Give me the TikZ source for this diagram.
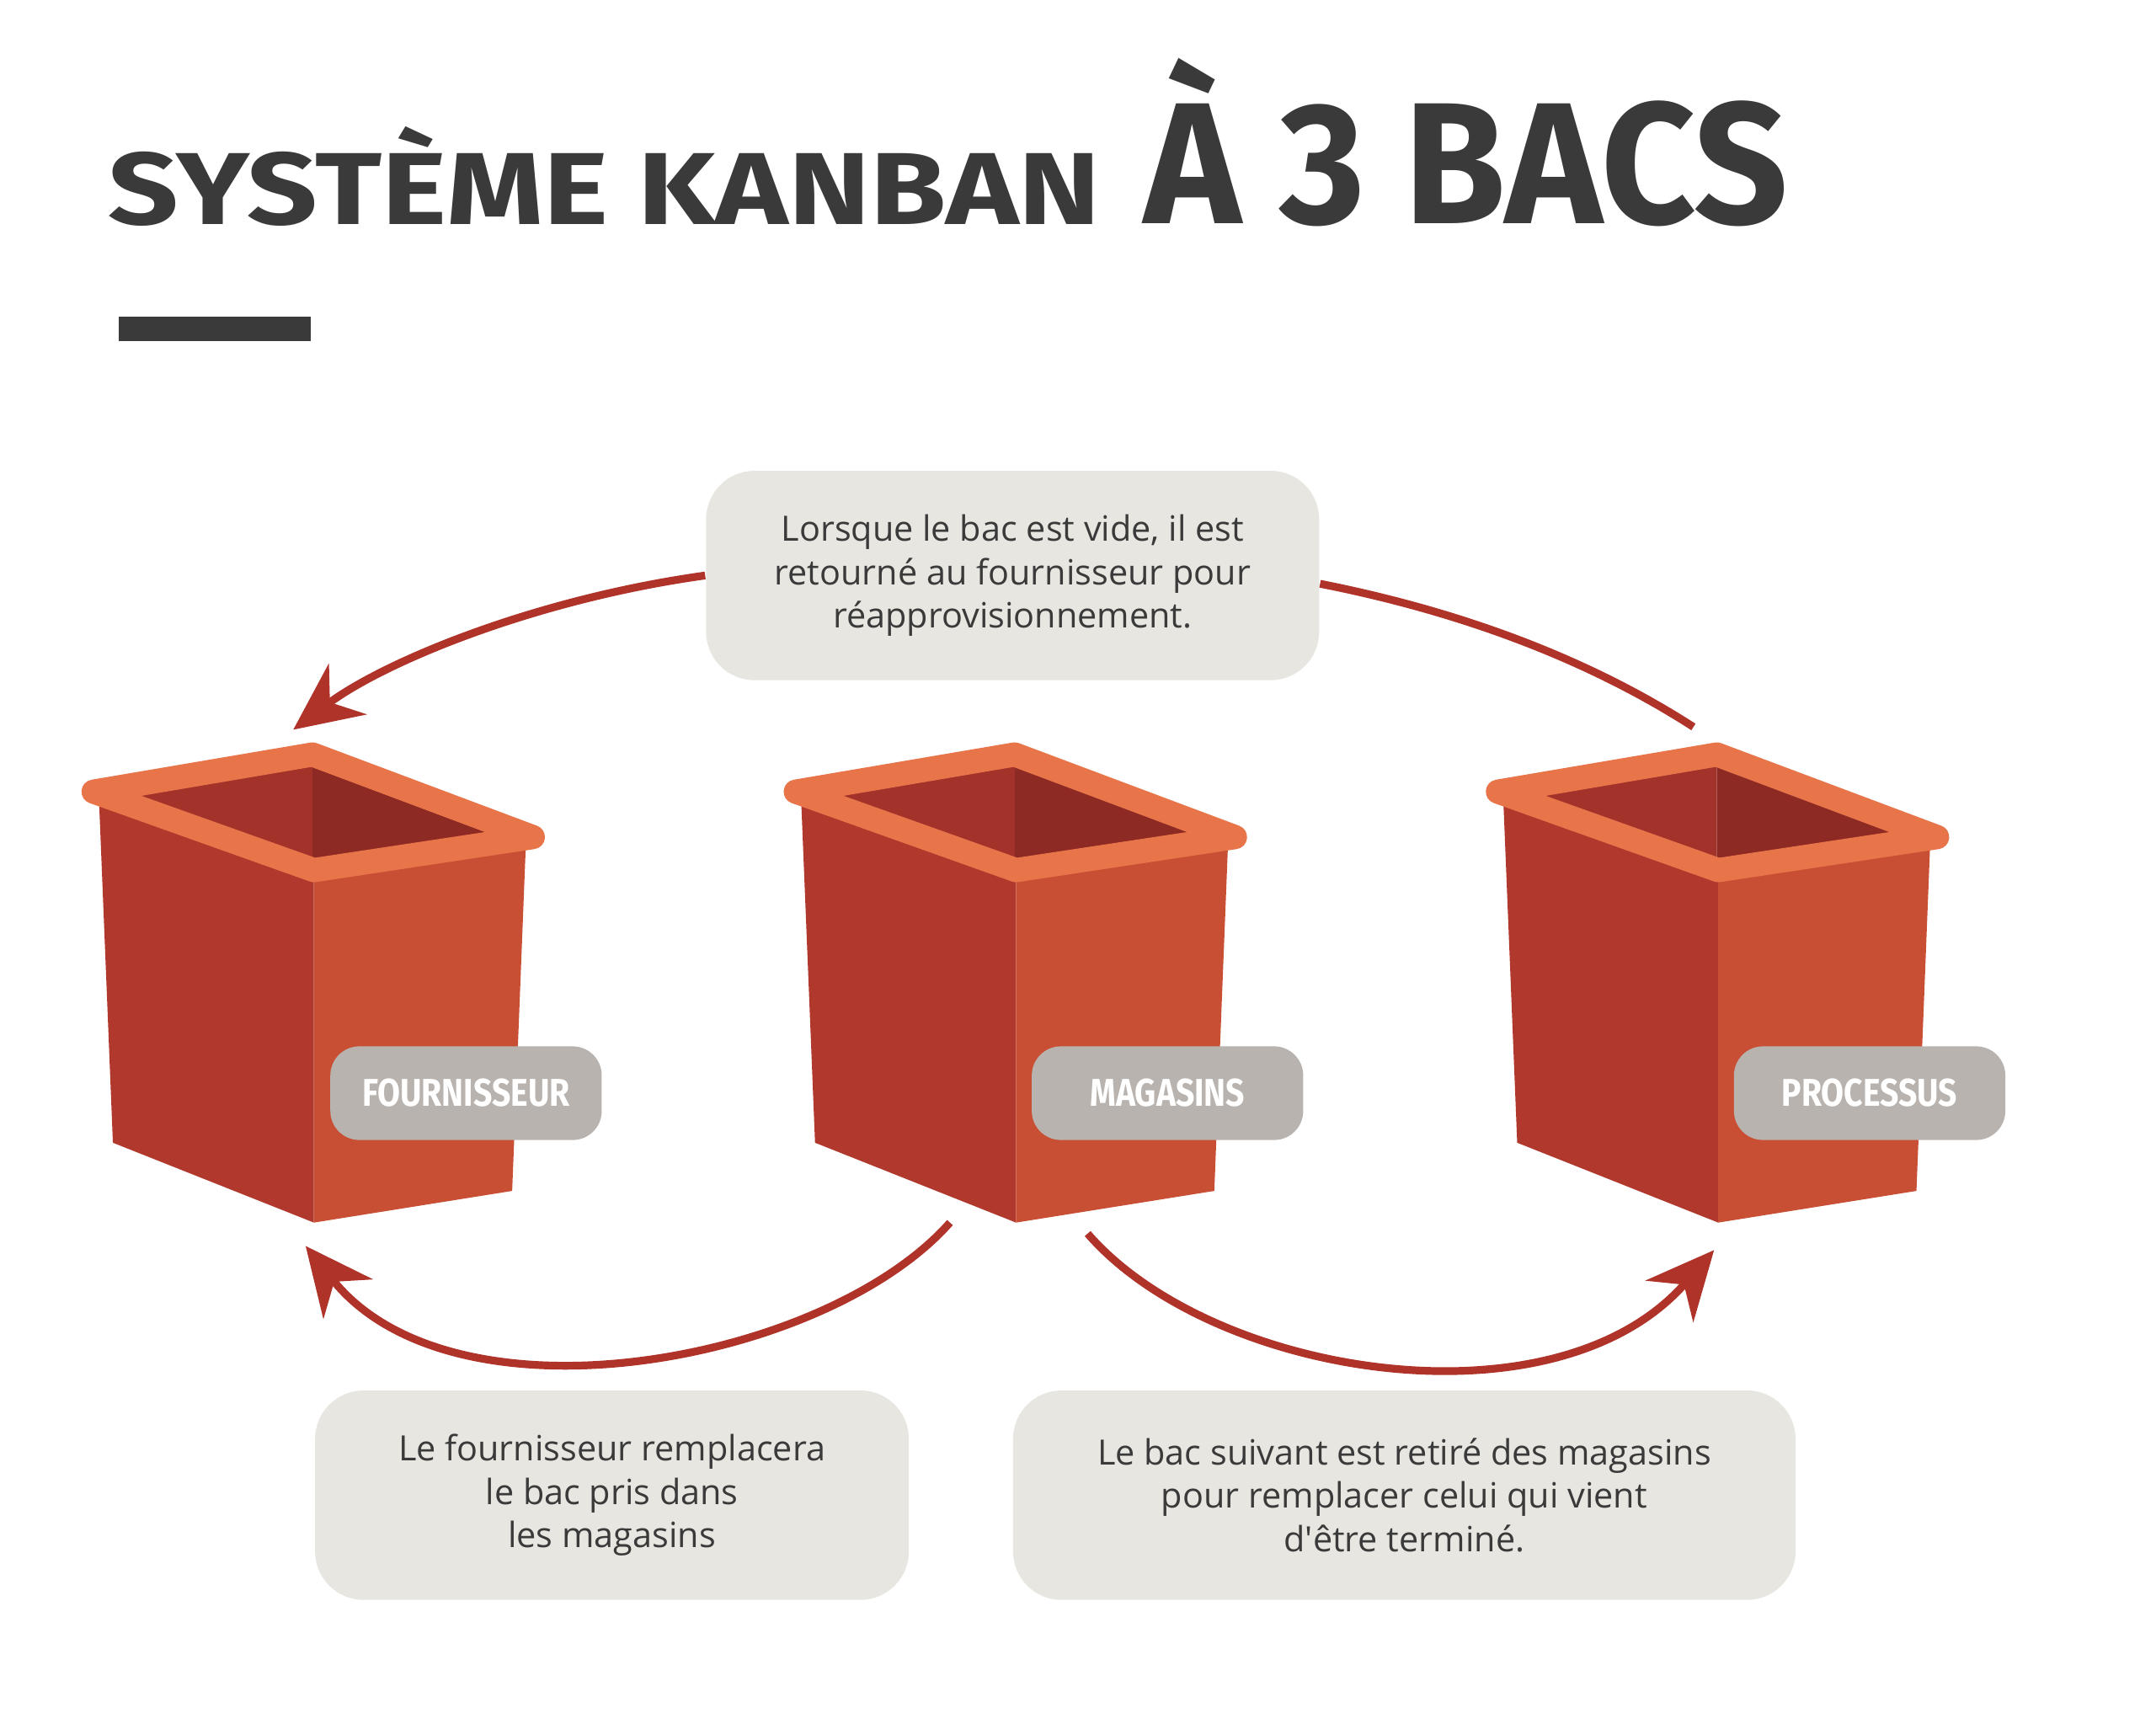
\documentclass[tikz,border=0pt]{standalone}
\usepackage{fontspec}
\setmainfont{Open Sans}
\newfontfamily\titlefont{Fira Sans}
\usetikzlibrary{positioning, arrows.meta}
\definecolor{ink}{HTML}{3A3A3A}
\definecolor{binleft}{HTML}{B0382C}
\definecolor{binright}{HTML}{C84F33}
\definecolor{binrim}{HTML}{E8744A}
\definecolor{bininl}{HTML}{A3322A}
\definecolor{bininr}{HTML}{8E2A24}
\definecolor{tagfill}{HTML}{B8B3AE}
\definecolor{notefill}{HTML}{E8E6E0}
\definecolor{flow}{HTML}{B0332A}
\newcommand{\kanbanbin}[1]{%
  \begin{scope}[shift={(#1,0)}]
    \fill[binleft] (72,583) -- (82,830) -- (228,888) -- (228,636) -- cycle;
    \fill[binright] (228,636) -- (228,888) -- (372,865) -- (382,612) -- cycle;
    \fill[bininl] (85,577) -- (227,552) -- (227,625) -- cycle;
    \fill[bininr] (227,552) -- (370,606) -- (227,625) -- cycle;
    \draw[binrim, line width=5pt, line join=round] (68,575) -- (227,548) -- (387,608) -- (228,632) -- cycle;
  \end{scope}}
\begin{document}
\begin{tikzpicture}[x=0.01cm, y=-0.01cm,
    tag/.style={fill=tagfill, rounded corners=6pt, text=white, font=\titlefont\bfseries\fontsize{8}{10}\selectfont, minimum width=1.97cm, minimum height=0.68cm, inner sep=0pt},
    note/.style={fill=notefill, rounded corners=10pt, text=ink, align=center, font=\fontsize{7.2}{9}\selectfont, inner sep=0pt},
    flowline/.style={flow, line width=1.6pt},
    flowarrow/.style={flowline, -{Stealth[length=14pt, width=13pt]}}
  ]
  \useasboundingbox (0,0) rectangle (1566,1244);
  \fill[white] (0,0) rectangle (1566,1244);

  % Title
  \node[anchor=south west, inner sep=0pt, text=ink] (title) at (78,165)
    {\resizebox{7.2cm}{0.71cm}{\titlefont\bfseries SYSTÈME KANBAN}};
  \node[anchor=south west, inner sep=0pt, text=ink] (title2) at (830,165)
    {\resizebox{4.68cm}{1.2cm}{\titlefont\bfseries À 3 BACS}};
  \fill[ink] (86,230) rectangle (226,248);

  % Bins
  \kanbanbin{0}
  \kanbanbin{510}
  \kanbanbin{1020}

  % Tags
  \node[tag] (supplier) at (338.5,794) {\scalebox{0.85}[1]{FOURNISSEUR}};
  \node[tag] (stores) at (848,794) {\scalebox{0.85}[1]{MAGASINS}};
  \node[tag] (process) at (1358,794) {\scalebox{0.85}[1]{PROCESSUS}};

  % Notes
  \node[note, minimum width=4.45cm, minimum height=1.52cm] (empty) at (735.5,418)
    {Lorsque le bac est vide, il est\\retourné au fournisseur pour\\réapprovisionnement.};
  \node[note, minimum width=4.31cm, minimum height=1.52cm] (refill) at (444.5,1086)
    {Le fournisseur remplacera\\le bac pris dans\\les magasins};
  \node[note, minimum width=5.68cm, minimum height=1.52cm] (next) at (1020,1086)
    {Le bac suivant est retiré des magasins\\pour remplacer celui qui vient\\d\textquotesingle être terminé.};

  % Flow arrows
  \coordinate (supplierTop) at (213,530);
  \coordinate (processTop) at (1230,528);
  \coordinate (storesLeft) at (690,888);
  \coordinate (storesRight) at (790,896);
  \coordinate (supplierBot) at (222,905);
  \coordinate (processBot) at (1245,908);
  \draw[flowarrow] (empty.west |- 0,418) .. controls (390,435) and (280,480) .. (supplierTop);
  \draw[flowline] (processTop) .. controls (1140,470) and (1040,440) .. (empty.east |- 0,424);
  \draw[flowarrow] (storesLeft) .. controls (600,990) and (330,1040) .. (supplierBot);
  \draw[flowarrow] (storesRight) .. controls (880,1000) and (1130,1040) .. (processBot);
\end{tikzpicture}
\end{document}
